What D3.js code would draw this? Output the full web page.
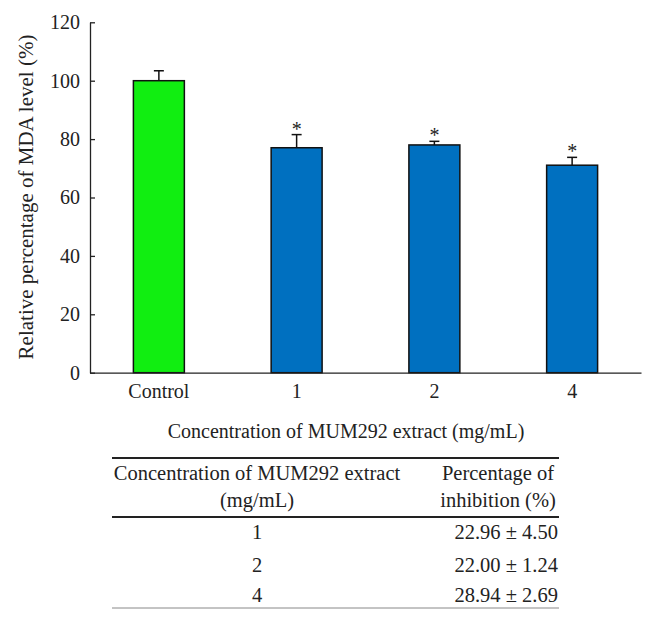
<!DOCTYPE html>
<html><head><meta charset="utf-8">
<script src="https://cdn.jsdelivr.net/npm/d3@7"></script>
<style>body{margin:0;background:#fff}svg{display:block}</style>
</head><body>
<svg id="c" width="654" height="623"></svg>
<script>
const categories = ["Control", "1", "2", "4"];
const values = [100, 77.04, 78.00, 71.06];
const errors = [3.4, 4.50, 1.24, 2.69];
const significant = [false, true, true, true];
const yTicks = [0, 20, 40, 60, 80, 100, 120];
const tableConc = ["1", "2", "4"];
const tableInhibition = ["22.96 ± 4.50", "22.00 ± 1.24", "28.94 ± 2.69"];

const FONT = '"Liberation Serif", "Times New Roman", serif';
const svg = d3.select("#c").style("font-family", FONT);
const x = d3.scaleBand().domain(categories).range([90, 641]).paddingInner(0.63).paddingOuter(0.315);
const y = d3.scaleLinear().domain([0, 120]).range([372.7, 22.3]);
const colors = ["#11ee11", "#0070c0", "#0070c0", "#0070c0"];

function txt(sel, size) {
  return sel.style("font-family", FONT).style("font-size", size + "px").attr("fill", "#222");
}

// y axis
const yAxis = svg.append("g").attr("transform", "translate(90,0)")
  .call(d3.axisRight(y).tickValues(yTicks).tickSize(5).tickSizeOuter(0).tickFormat(d3.format("d")));
yAxis.attr("font-family", null);
yAxis.select(".domain").attr("stroke", "#222").attr("stroke-width", 1.3);
yAxis.selectAll(".tick line").attr("stroke", "#222").attr("stroke-width", 1.3);
txt(yAxis.selectAll(".tick text").attr("x", -10).attr("text-anchor", "end"), 20);

// bars
svg.append("g").selectAll("rect").data(categories).join("rect")
  .attr("x", d => x(d)).attr("width", x.bandwidth())
  .attr("y", (d, i) => y(values[i])).attr("height", (d, i) => y(0) - y(values[i]))
  .attr("fill", (d, i) => colors[i]).attr("stroke", "#111").attr("stroke-width", 1.5);

// error bars
const eg = svg.append("g").attr("stroke", "#111").attr("stroke-width", 1.5);
categories.forEach((c, i) => {
  const cx = x(c) + x.bandwidth() / 2;
  eg.append("line").attr("x1", cx).attr("x2", cx).attr("y1", y(values[i])).attr("y2", y(values[i] + errors[i]));
  eg.append("line").attr("x1", cx - 5).attr("x2", cx + 5).attr("y1", y(values[i] + errors[i])).attr("y2", y(values[i] + errors[i]));
  if (significant[i]) {
    txt(svg.append("text").attr("x", cx).attr("y", y(values[i] + errors[i]) + 1).attr("text-anchor", "middle"), 20).text("*");
  }
});

// x axis
const xAxis = svg.append("g").attr("transform", "translate(0,372.7)")
  .call(d3.axisBottom(x).tickSize(0).tickSizeOuter(0).tickPadding(11));
xAxis.select(".domain").attr("stroke", "#222").attr("stroke-width", 1.3);
txt(xAxis.selectAll(".tick text"), 20);

// axis titles
txt(svg.append("text").attr("transform", "translate(33,197) rotate(-90)").attr("text-anchor", "middle"), 21)
  .text("Relative percentage of MDA level (%)");
txt(svg.append("text").attr("x", 346).attr("y", 438).attr("text-anchor", "middle"), 20)
  .text("Concentration of MUM292 extract (mg/mL)");

// table
const tL = 112, tR = 559;
svg.append("line").attr("x1", tL).attr("x2", tR).attr("y1", 458).attr("y2", 458).attr("stroke", "#222").attr("stroke-width", 1.8);
svg.append("line").attr("x1", tL).attr("x2", tR).attr("y1", 517).attr("y2", 517).attr("stroke", "#222").attr("stroke-width", 1.8);
svg.append("line").attr("x1", tL).attr("x2", tR).attr("y1", 608).attr("y2", 608).attr("stroke", "#888").attr("stroke-width", 1);
const TS = 20.5;
txt(svg.append("text").attr("x", 257).attr("y", 480).attr("text-anchor", "middle"), TS).text("Concentration of MUM292 extract");
txt(svg.append("text").attr("x", 257).attr("y", 507).attr("text-anchor", "middle"), TS).text("(mg/mL)");
txt(svg.append("text").attr("x", 498).attr("y", 480).attr("text-anchor", "middle"), TS).text("Percentage of");
txt(svg.append("text").attr("x", 498).attr("y", 507).attr("text-anchor", "middle"), TS).text("inhibition (%)");
const rowY = [539, 572, 602];
tableConc.forEach((c, i) => {
  txt(svg.append("text").attr("x", 257).attr("y", rowY[i]).attr("text-anchor", "middle"), TS).text(c);
  txt(svg.append("text").attr("x", 558).attr("y", rowY[i]).attr("text-anchor", "end"), TS).text(tableInhibition[i]);
});
</script>
</body></html>
